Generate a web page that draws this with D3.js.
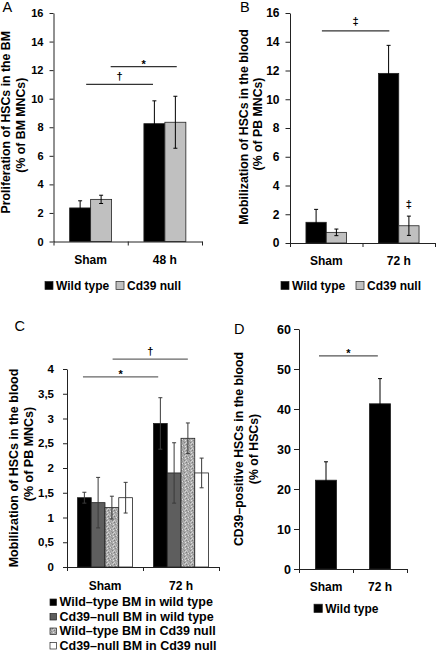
<!DOCTYPE html>
<html><head><meta charset="utf-8">
<script src="https://cdn.jsdelivr.net/npm/d3@7"></script>
<style>
html,body{margin:0;padding:0;background:#fff;}
svg{display:block;font-family:"Liberation Sans",Arial,Helvetica,sans-serif;}
</style>
</head><body>
<svg id="chart" width="436" height="655"></svg>
<script>
// ---------------- DATA ----------------
// Panel A
const catsA = ["Sham", "48 h"];
const namesA = ["Wild type", "Cd39 null"];
const meanA_wt = [2.35, 8.25];
const errA_wt = [0.5, 1.6];
const meanA_ko = [2.95, 8.35];
const errA_ko = [0.29, 1.82];
const ticksA = [0, 2, 4, 6, 8, 10, 12, 14, 16];
const titleA = ["Proliferation of HSCs in the BM", "(% of BM MNCs)"];
const sigA = [{label: "†", from: 0.44, to: 1.34, y: 11.0}, {label: "*", from: 0.77, to: 1.66, y: 12.25}];

// Panel B
const catsB = ["Sham", "72 h"];
const namesB = ["Wild type", "Cd39 null"];
const meanB_wt = [1.44, 11.8];
const errB_wt = [0.9, 1.95];
const meanB_ko = [0.74, 1.2];
const errB_ko = [0.23, 0.67];
const ticksB = [0, 2, 4, 6, 8, 10, 12, 14, 16];
const titleB = ["Mobilization of HSCs in the blood", "(% of PB MNCs)"];
const sigB = [{label: "‡", from: 0.44, to: 1.37, y: 14.75}];
const markB = [{label: "‡", cat: 1, series: 1}];

// Panel C
const catsC = ["Sham", "72 h"];
const namesC = ["Wild–type BM in wild type", "Cd39–null BM in wild type", "Wild–type BM in Cd39 null", "Cd39–null BM in Cd39 null"];
const meanC_wtwt = [1.4, 2.9];
const errC_wtwt = [0.11, 0.52];
const meanC_kowt = [1.3, 1.9];
const errC_kowt = [0.51, 0.61];
const meanC_wtko = [1.2, 2.6];
const errC_wtko = [0.23, 0.31];
const meanC_koko = [1.4, 1.9];
const errC_koko = [0.31, 0.3];
const ticksC = [0, 0.5, 1, 1.5, 2, 2.5, 3, 3.5, 4];
const titleC = ["Mobilization of HSCs in the blood", "(% of PB MNCs)"];
const sigC = [{label: "*", from: 0.21, to: 1.2, y: 3.84}, {label: "†", from: 0.6, to: 1.59, y: 4.2}];

// Panel D
const catsD = ["Sham", "72 h"];
const namesD = ["Wild type"];
const meanD_wt = [22.2, 41.3];
const errD_wt = [4.6, 6.3];
const ticksD = [0, 10, 20, 30, 40, 50, 60];
const titleD = ["CD39–positive HSCs in the blood", "(% of HSCs)"];
const sigD = [{label: "*", from: 0.37, to: 1.46, y: 53.3}];

// ---------------- DRAWING ----------------
const svg = d3.select("#chart");
const defs = svg.append("defs");
const pat = defs.append("pattern").attr("id", "speckle")
  .attr("width", 6).attr("height", 6).attr("patternUnits", "userSpaceOnUse");
pat.append("rect").attr("width", 6).attr("height", 6).attr("fill", "#ababab");
[[0,0,"#7c7c7c"],[2,1,"#dedede"],[4,0,"#c4c4c4"],[1,2,"#8a8a8a"],[5,2,"#e4e4e4"],[3,3,"#959595"],
 [0,4,"#d0d0d0"],[2,5,"#9a9a9a"],[4,4,"#808080"],[5,5,"#d6d6d6"],[1,5,"#c0c0c0"],[3,1,"#888"]]
  .forEach(([px, py, c]) => pat.append("rect").attr("x", px).attr("y", py).attr("width", 1).attr("height", 1).attr("fill", c));

const commaFmt = d => String(d).replace(".", ",");

function drawPanel(cfg) {
  const g = svg.append("g");
  const y = d3.scaleLinear().domain([0, cfg.max]).range([cfg.yBottom, cfg.yTop]);
  const xBand = d3.scaleBand().domain(cfg.cats).range([cfg.x0, cfg.x1]);
  const xUnit = d3.scaleLinear().domain([0, cfg.cats.length]).range([cfg.x0, cfg.x1]);
  const groupW = xBand.bandwidth() * cfg.groupFrac;
  const xSub = d3.scaleBand().domain(d3.range(cfg.series.length)).range([0, groupW]);
  const barX = (c, si) => xBand(c) + (xBand.bandwidth() - groupW) / 2 + xSub(si);

  // bars
  cfg.series.forEach((s, si) => {
    const data = cfg.cats.map((c, ci) => ({c, v: s.mean[ci], e: s.err[ci]}));
    g.append("g").selectAll("rect").data(data).join("rect")
      .attr("x", d => barX(d.c, si)).attr("y", d => y(d.v))
      .attr("width", xSub.bandwidth()).attr("height", d => y(0) - y(d.v))
      .attr("fill", s.fill).attr("stroke", "#222").attr("stroke-width", 0.8);
  });
  // error bars
  cfg.series.forEach((s, si) => {
    const data = cfg.cats.map((c, ci) => ({c, v: s.mean[ci], e: s.err[ci]}));
    const eg = g.append("g").attr("stroke", cfg.errColor).attr("stroke-width", 1).attr("fill", "none");
    const cx = d => barX(d.c, si) + xSub.bandwidth() / 2;
    eg.selectAll("line.v").data(data).join("line").attr("class", "v")
      .attr("x1", cx).attr("x2", cx).attr("y1", d => y(d.v - d.e)).attr("y2", d => y(d.v + d.e));
    eg.selectAll("line.t").data(data).join("line").attr("class", "t")
      .attr("x1", d => cx(d) - 2).attr("x2", d => cx(d) + 2).attr("y1", d => y(d.v + d.e)).attr("y2", d => y(d.v + d.e));
    eg.selectAll("line.b").data(data).join("line").attr("class", "b")
      .attr("x1", d => cx(d) - 2).attr("x2", d => cx(d) + 2).attr("y1", d => y(d.v - d.e)).attr("y2", d => y(d.v - d.e));
  });

  // y axis
  const ya = d3.axisLeft(y).tickValues(cfg.ticks).tickSize(cfg.tickSize).tickPadding(cfg.tickPad)
    .tickSizeOuter(0).tickFormat(cfg.fmt || (d => String(d)));
  const yg = g.append("g").attr("transform", `translate(${cfg.x0},0)`).call(ya);
  yg.selectAll("path,line").attr("stroke", "#222");
  yg.selectAll("text").attr("font-size", cfg.tickFont).attr("font-weight", "bold")
    .attr("fill", "#000").attr("font-family", "Liberation Sans, Arial, sans-serif");

  // x axis
  const xa = d3.axisBottom(xUnit).tickValues(d3.range(cfg.cats.length + 1)).tickSize(4)
    .tickSizeOuter(0).tickFormat("");
  const xg = g.append("g").attr("transform", `translate(0,${cfg.yBottom})`).call(xa);
  xg.selectAll("path,line").attr("stroke", "#222");

  // category labels
  g.append("g").selectAll("text").data(cfg.cats).join("text")
    .attr("x", c => xBand(c) + xBand.bandwidth() / 2)
    .attr("y", cfg.yBottom + cfg.catDy)
    .attr("text-anchor", "middle").attr("font-size", 12).attr("font-weight", "bold")
    .text(c => c);

  // y title
  const ymid = (cfg.yTop + cfg.yBottom) / 2;
  cfg.title.forEach((t, i) => {
    g.append("text").attr("transform", `translate(${cfg.titleX[i]},${ymid + cfg.titleShift[i]}) rotate(-90)`)
      .attr("text-anchor", "middle").attr("font-size", cfg.titleFont).attr("font-weight", "bold")
      .text(t);
  });

  // significance brackets
  const symDy = {"*": 1, "†": -4, "‡": -6};
  (cfg.sig || []).forEach(s => {
    g.append("line").attr("x1", xUnit(s.from)).attr("x2", xUnit(s.to))
      .attr("y1", y(s.y)).attr("y2", y(s.y)).attr("stroke", cfg.sigColor).attr("stroke-width", 1.2);
    g.append("text").attr("x", (xUnit(s.from) + xUnit(s.to)) / 2).attr("y", y(s.y) + symDy[s.label])
      .attr("text-anchor", "middle").attr("font-size", 11).attr("font-weight", "bold").attr("fill", "#000")
      .text(s.label);
  });
  (cfg.marks || []).forEach(m => {
    const s = cfg.series[m.series];
    const c = cfg.cats[m.cat];
    g.append("text").attr("x", barX(c, m.series) + xSub.bandwidth() / 2)
      .attr("y", y(s.mean[m.cat] + s.err[m.cat]) - 8)
      .attr("text-anchor", "middle").attr("font-size", 11).attr("font-weight", "bold").attr("fill", "#000")
      .text(m.label);
  });

  // legend
  const lg = g.append("g");
  cfg.series.forEach((s, si) => {
    const L = cfg.legend[si];
    lg.append("rect").attr("x", L.x).attr("y", L.y - cfg.legendSq - 0.5)
      .attr("width", cfg.legendSq).attr("height", cfg.legendSq)
      .attr("fill", s.fill).attr("stroke", "#222").attr("stroke-width", 0.7);
    lg.append("text").attr("x", L.x + cfg.legendSq + 3).attr("y", L.y)
      .attr("font-size", cfg.legendFont).attr("font-weight", "bold").text(s.name);
  });

  // panel letter
  g.append("text").attr("x", cfg.letterPos[0]).attr("y", cfg.letterPos[1])
    .attr("font-size", 14.5).attr("font-weight", "normal").text(cfg.letter);
}

drawPanel({
  letter: "A", letterPos: [2.5, 12],
  cats: catsA, max: 16, ticks: ticksA,
  x0: 53.5, x1: 202, yTop: 13, yBottom: 241.5,
  tickSize: 4, tickPad: 6, tickFont: 11, groupFrac: 0.565, catDy: 22,
  errColor: "#000", sigColor: "#333",
  series: [
    {name: namesA[0], mean: meanA_wt, err: errA_wt, fill: "#000"},
    {name: namesA[1], mean: meanA_ko, err: errA_ko, fill: "#c0c0c0"}
  ],
  title: titleA, titleX: [10, 25], titleFont: 12.3, titleShift: [-5, -2],
  sig: sigA,
  legend: [{x: 45, y: 290}, {x: 116, y: 290}], legendSq: 8, legendFont: 12
});

drawPanel({
  letter: "B", letterPos: [240, 12],
  cats: catsB, max: 16, ticks: ticksB,
  x0: 290, x1: 435, yTop: 13, yBottom: 243,
  tickSize: 4.5, tickPad: 6, tickFont: 12, groupFrac: 0.56, catDy: 22,
  errColor: "#000", sigColor: "#333",
  series: [
    {name: namesB[0], mean: meanB_wt, err: errB_wt, fill: "#000"},
    {name: namesB[1], mean: meanB_ko, err: errB_ko, fill: "#c0c0c0"}
  ],
  title: titleB, titleX: [248, 262], titleFont: 12.3, titleShift: [-1, -4],
  sig: sigB, marks: markB,
  legend: [{x: 281, y: 290}, {x: 356, y: 290}], legendSq: 8, legendFont: 12
});

drawPanel({
  letter: "C", letterPos: [14.5, 331],
  cats: catsC, max: 4, ticks: ticksC, fmt: commaFmt,
  x0: 67, x1: 219, yTop: 369, yBottom: 567,
  tickSize: 4, tickPad: 9, tickFont: 11.5, groupFrac: 0.724, catDy: 23,
  errColor: "#3a3a3a", sigColor: "#666",
  series: [
    {name: namesC[0], mean: meanC_wtwt, err: errC_wtwt, fill: "#000"},
    {name: namesC[1], mean: meanC_kowt, err: errC_kowt, fill: "#5e5e5e"},
    {name: namesC[2], mean: meanC_wtko, err: errC_wtko, fill: "url(#speckle)"},
    {name: namesC[3], mean: meanC_koko, err: errC_koko, fill: "#fff"}
  ],
  title: titleC, titleX: [18, 32.5], titleFont: 12.5, titleShift: [0, -14],
  sig: sigC,
  legend: [{x: 50, y: 606}, {x: 50, y: 620.5}, {x: 50, y: 635}, {x: 50, y: 649.5}], legendSq: 6.5, legendFont: 12.5
});

drawPanel({
  letter: "D", letterPos: [234, 333.5],
  cats: catsD, max: 60, ticks: ticksD,
  x0: 299, x1: 407, yTop: 329, yBottom: 569,
  tickSize: 5, tickPad: 3, tickFont: 12.5, groupFrac: 0.39, catDy: 21.5,
  errColor: "#000", sigColor: "#555",
  series: [
    {name: namesD[0], mean: meanD_wt, err: errD_wt, fill: "#000"}
  ],
  title: titleD, titleX: [243, 258], titleFont: 12.3, titleShift: [0, 0],
  sig: sigD,
  legend: [{x: 314, y: 613}], legendSq: 8.3, legendFont: 12
});
</script>
</body></html>
